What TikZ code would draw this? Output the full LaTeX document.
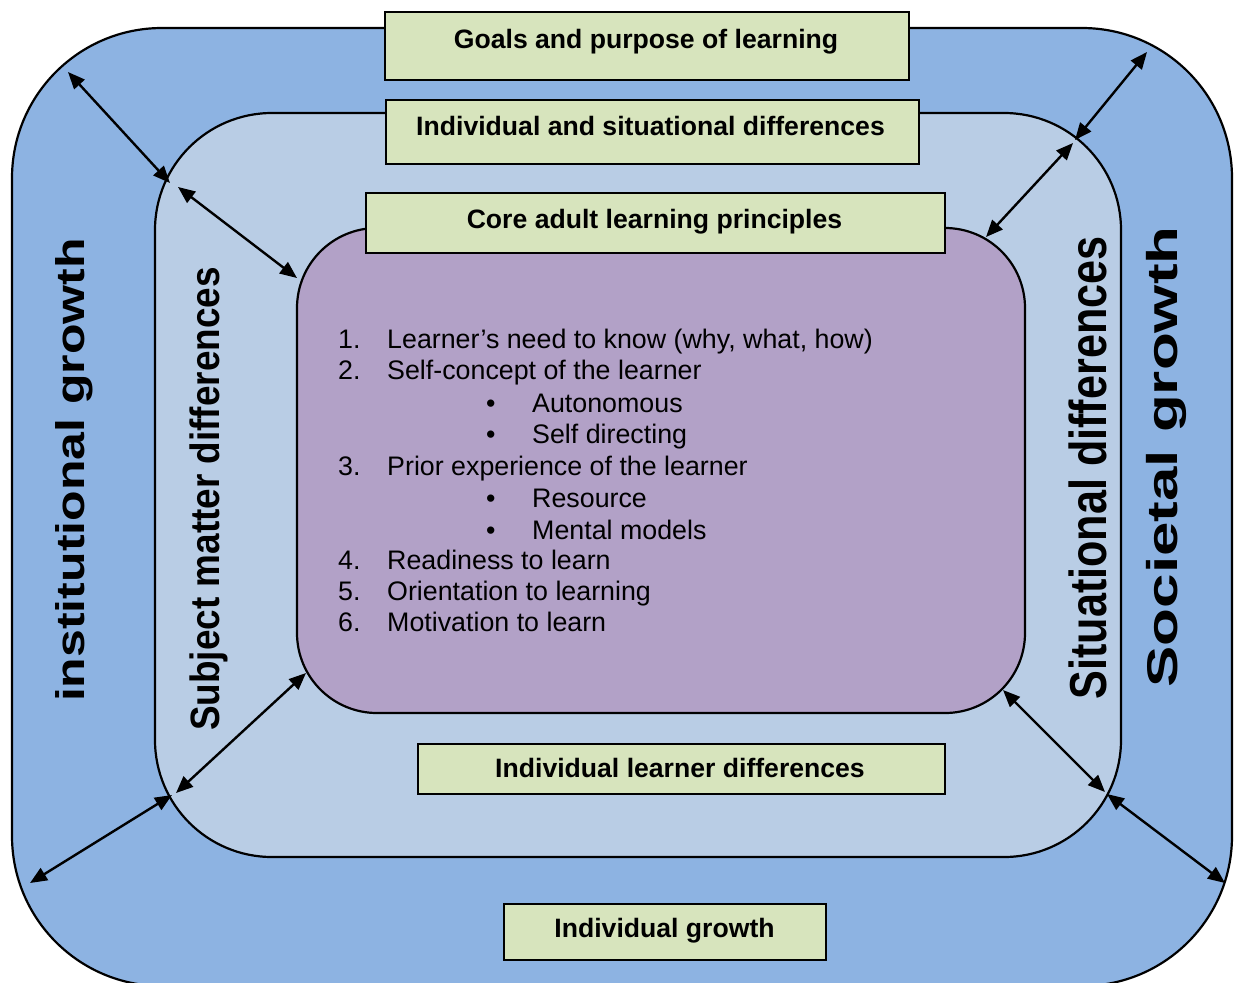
\documentclass[tikz,border=0pt]{standalone}
\usepackage{fontspec}
\setmainfont{Liberation Sans}
\usetikzlibrary{arrows.meta}

\definecolor{outerblue}{HTML}{8DB3E2}
\definecolor{midblue}{HTML}{B9CDE5}
\definecolor{corepurple}{HTML}{B2A1C7}
\definecolor{boxgreen}{HTML}{D7E4BD}

\tikzset{
  ring/.style={draw=black, line width=2.2pt},
  greenbox/.style={draw=black, line width=2.2pt, fill=boxgreen, inner sep=0pt, anchor=north west},
  boxlabel/.style={font=\fontsize{26.6}{32}\selectfont\bfseries, inner sep=0pt, anchor=base},
  listitem/.style={font=\fontsize{26.8}{32}\selectfont, inner sep=0pt, anchor=base west},
  listbullet/.style={font=\fontsize{26.8}{32}\selectfont, inner sep=0pt, anchor=base},
  sidelabel/.style={rotate=90, inner sep=0pt, anchor=base},
  tipshape/.tip={Triangle[length=17pt,width=14pt]},
  twoway/.style={tipshape-tipshape, line width=2.4pt},
}

\begin{document}
\begin{tikzpicture}[x=1pt, y=-1pt]
  \clip (0,0) rectangle (1235,983);

  % nested rings
  \draw[ring, fill=outerblue, rounded corners=150pt] (12,28) rectangle (1232,986);
  \draw[ring, fill=midblue, rounded corners=117pt] (155,113) rectangle (1121,857);
  \draw[ring, fill=corepurple, rounded corners=80pt] (297,228) rectangle (1025,713);

  % headline boxes
  \node[greenbox, minimum width=524pt, minimum height=68pt] (goalsbox) at (384,11) {};
  \node[boxlabel] (goals) at (646,48) {Goals and purpose of learning};

  \node[greenbox, minimum width=533pt, minimum height=64pt] (indsitbox) at (385,99) {};
  \node[boxlabel] (indsit) at (650.5,135) {Individual and situational differences};

  \node[greenbox, minimum width=579pt, minimum height=60pt] (corebox) at (365,192) {};
  \node[boxlabel] (core) at (654.5,228) {Core adult learning principles};

  \node[greenbox, minimum width=527pt, minimum height=50pt] (learnerbox) at (417,743) {};
  \node[boxlabel] (learner) at (680,777) {Individual learner differences};

  \node[greenbox, minimum width=322pt, minimum height=56pt] (growthbox) at (503,903) {};
  \node[boxlabel] (growth) at (664.5,937) {Individual growth};

  % principles list
  \node[listitem] (n1) at (338,348.5) {1.};
  \node[listitem] (t1) at (387,348.5) {Learner’s need to know (why, what, how)};
  \node[listitem] (n2) at (338,379) {2.};
  \node[listitem] (t2) at (387,379) {Self-concept of the learner};
  \node[listbullet] (b1) at (490.7,412) {\textbullet};
  \node[listitem] (s1) at (532,412) {Autonomous};
  \node[listbullet] (b2) at (490.7,443.5) {\textbullet};
  \node[listitem] (s2) at (532,443.5) {Self directing};
  \node[listitem] (n3) at (338,475) {3.};
  \node[listitem] (t3) at (387,475) {Prior experience of the learner};
  \node[listbullet] (b3) at (490.7,507) {\textbullet};
  \node[listitem] (s3) at (532,507) {Resource};
  \node[listbullet] (b4) at (490.7,539.5) {\textbullet};
  \node[listitem] (s4) at (532,539.5) {Mental models};
  \node[listitem] (n4) at (338,569.5) {4.};
  \node[listitem] (t4) at (387,569.5) {Readiness to learn};
  \node[listitem] (n5) at (338,600.5) {5.};
  \node[listitem] (t5) at (387,600.5) {Orientation to learning};
  \node[listitem] (n6) at (338,631.5) {6.};
  \node[listitem] (t6) at (387,631.5) {Motivation to learn};

  % vertical side labels
  \node[sidelabel, font=\fontsize{40}{40}\selectfont\bfseries] (inst) at (84,470)
    {\scalebox{1.25}[1]{institutional growth}};
  \node[sidelabel, font=\fontsize{41}{42}\selectfont\bfseries] (subj) at (219,499)
    {\scalebox{0.9}[1]{Subject matter differences}};
  \node[sidelabel, font=\fontsize{52}{54}\selectfont\bfseries] (situ) at (1106,468)
    {\scalebox{0.83}[1]{Situational differences}};
  \node[sidelabel, font=\fontsize{43}{44}\selectfont\bfseries] (soci) at (1177,457)
    {\scalebox{1.44}[1]{Societal growth}};

  % arrow end points on the ring borders
  \coordinate (tlo) at (68,72);
  \coordinate (tlm1) at (170,183);
  \coordinate (tlm2) at (178,187);
  \coordinate (tli) at (297,278);
  \coordinate (tro) at (1147,52);
  \coordinate (trm1) at (1075,140);
  \coordinate (trm2) at (1073,143);
  \coordinate (tri) at (986,237);
  \coordinate (bli) at (306,673);
  \coordinate (blm1) at (176,793);
  \coordinate (blm2) at (172,795);
  \coordinate (blo) at (30,883);
  \coordinate (bri) at (1003,690);
  \coordinate (brm1) at (1105,792);
  \coordinate (brm2) at (1107,794);
  \coordinate (bro) at (1225,883);

  \draw[twoway] (tlo) -- (tlm1);
  \draw[twoway] (tlm2) -- (tli);
  \draw[twoway] (tro) -- (trm1);
  \draw[twoway] (trm2) -- (tri);
  \draw[twoway] (bli) -- (blm1);
  \draw[twoway] (blm2) -- (blo);
  \draw[twoway] (bri) -- (brm1);
  \draw[twoway] (brm2) -- (bro);
\end{tikzpicture}
\end{document}
